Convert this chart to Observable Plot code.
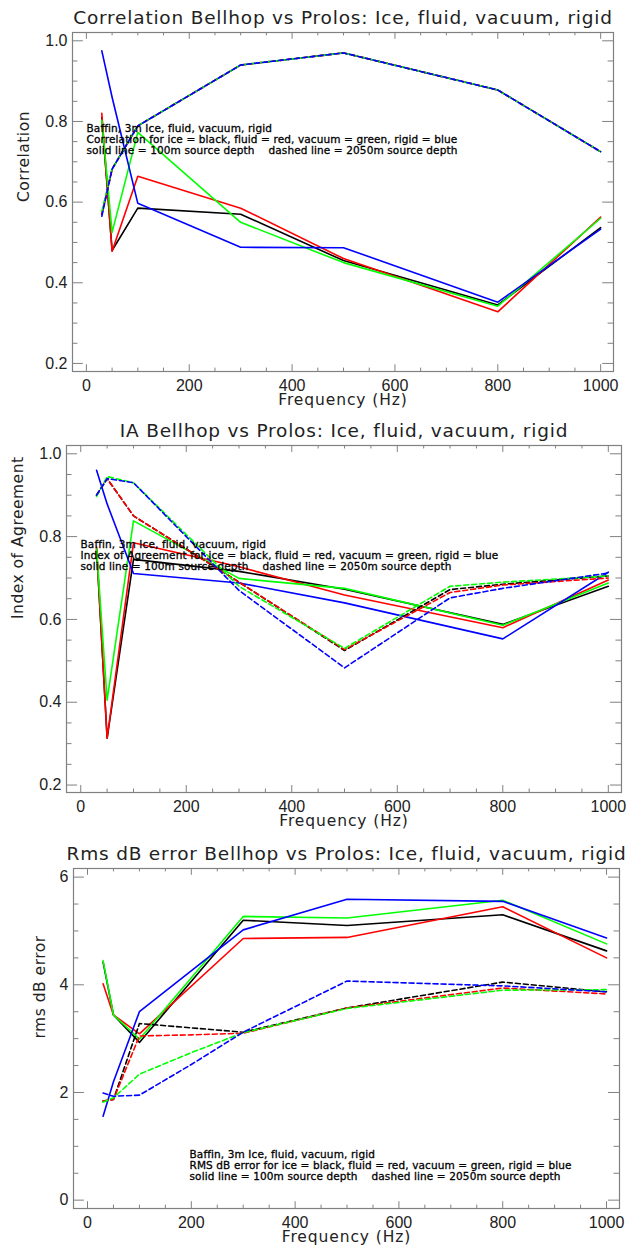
<!DOCTYPE html>
<html><head><meta charset="utf-8">
<script src="https://cdn.jsdelivr.net/npm/d3@7"></script>
<script src="https://cdn.jsdelivr.net/npm/@observablehq/plot@0.6"></script>
<style>
body{margin:0;background:#fff;}
#root{width:631px;}
#root svg{display:block;}
</style></head><body><div id="root"></div>
<script>
// ---------- data ----------
const freqSolid = [30, 50, 100, 300, 500, 800, 1000];
const freqCorrDashed = [30, 50, 100, 300, 500, 800, 1000];
const freqIADashed = [30, 50, 100, 300, 500, 700, 800, 1000];
const freqRmsDashed = [30, 50, 100, 200, 300, 500, 800, 1000];

const boundaries = ["ice", "fluid", "vacuum", "rigid"];
const boundaryColors = ["#000000", "#ff0000", "#00ff00", "#0000ff"];

// Correlation, 100 m source (solid)
const corrIce100    = [0.81, 0.480, 0.585, 0.570, 0.455, 0.345, 0.537];
const corrFluid100  = [0.82, 0.478, 0.664, 0.585, 0.460, 0.328, 0.563];
const corrVacuum100 = [0.803, 0.525, 0.773, 0.550, 0.450, 0.342, 0.560];
const corrRigid100  = [0.975, 0.860, 0.597, 0.488, 0.487, 0.352, 0.533];
// Correlation, 2050 m source (dashed)
const corrIce2050    = [0.570, 0.682, 0.789, 0.940, 0.970, 0.878, 0.725];
const corrFluid2050  = [0.570, 0.682, 0.789, 0.940, 0.970, 0.878, 0.725];
const corrVacuum2050 = [0.577, 0.682, 0.789, 0.940, 0.970, 0.878, 0.725];
const corrRigid2050  = [0.565, 0.682, 0.789, 0.940, 0.970, 0.878, 0.725];

// Index of agreement, 100 m source (solid)
const iaIce100    = [0.770, 0.313, 0.745, 0.716, 0.673, 0.588, 0.680];
const iaFluid100  = [0.775, 0.313, 0.785, 0.727, 0.659, 0.580, 0.695];
const iaVacuum100 = [0.770, 0.405, 0.838, 0.699, 0.675, 0.586, 0.688];
const iaRigid100  = [0.960, 0.879, 0.711, 0.688, 0.640, 0.553, 0.714];
// Index of agreement, 2050 m source (dashed)
const iaIce2050    = [0.900, 0.940, 0.850, 0.690, 0.525, 0.672, 0.685, 0.705];
const iaFluid2050  = [0.900, 0.940, 0.850, 0.690, 0.527, 0.665, 0.683, 0.700];
const iaVacuum2050 = [0.897, 0.945, 0.930, 0.680, 0.530, 0.680, 0.690, 0.705];
const iaRigid2050  = [0.900, 0.940, 0.930, 0.670, 0.483, 0.652, 0.675, 0.712];

// RMS dB error, 100 m source (solid)
const rmsIce100    = [4.42, 3.44, 2.93, 5.20, 5.10, 5.30, 4.63];
const rmsFluid100  = [4.02, 3.44, 3.09, 4.86, 4.88, 5.45, 4.50];
const rmsVacuum100 = [4.45, 3.44, 2.99, 5.27, 5.24, 5.57, 4.76];
const rmsRigid100  = [1.56, 2.20, 3.50, 5.02, 5.59, 5.55, 4.87];
// RMS dB error, 2050 m source (dashed)
const rmsIce2050    = [1.84, 1.87, 3.28, 3.20, 3.12, 3.57, 4.05, 3.87];
const rmsFluid2050  = [1.84, 1.87, 3.05, 3.07, 3.10, 3.57, 3.94, 3.83];
const rmsVacuum2050 = [1.82, 1.90, 2.34, 2.74, 3.11, 3.56, 3.90, 3.91];
const rmsRigid2050  = [1.99, 1.93, 1.95, 2.52, 3.12, 4.07, 3.98, 3.87];

const xTickValues = [0, 200, 400, 600, 800, 1000];
const corrTickValues = [0.2, 0.4, 0.6, 0.8, 1.0];
const iaTickValues = [0.2, 0.4, 0.6, 0.8, 1.0];
const rmsTickValues = [0, 2, 4, 6];

const titles = [
  "Correlation Bellhop vs Prolos: Ice, fluid, vacuum, rigid",
  "IA Bellhop vs Prolos: Ice, fluid, vacuum, rigid",
  "Rms dB error Bellhop vs Prolos: Ice, fluid, vacuum, rigid"
];
const yLabels = ["Correlation", "Index of Agreement", "rms dB error"];
const xLabel = "Frequency (Hz)";
const notes = [
  "Baffin, 3m Ice, fluid, vacuum, rigid\nCorrelation for ice = black, fluid = red, vacuum = green, rigid = blue\nsolid line = 100m source depth    dashed line = 2050m source depth",
  "Baffin, 3m Ice, fluid, vacuum, rigid\nIndex of Agreement for ice = black, fluid = red, vacuum = green, rigid = blue\nsolid line = 100m source depth    dashed line = 2050m source depth",
  "Baffin, 3m Ice, fluid, vacuum, rigid\nRMS dB error for ice = black, fluid = red, vacuum = green, rigid = blue\nsolid line = 100m source depth    dashed line = 2050m source depth"
];

// ---------- drawing ----------
const FONT = "'DejaVu Sans', 'Liberation Sans', sans-serif";
const TICKFONT = "'Liberation Sans', Arial, sans-serif";
const FRAME = "#808080";

function toRows(freqs, values) {
  return freqs.map((f, i) => ({f, v: values[i]}));
}

function panel(o) {
  const W = 631;
  const {top, right, bottom, left} = o.m;
  const fw = W - left - right, fh = o.height - top - bottom;
  const xL = 0.02 * fh, yL = 0.02 * fw;
  const xMinor = d3.range(0, 1001, 50).filter(d => d % 200 !== 0);
  const yMinor = d3.range(o.yMinorStart, o.yMinorEnd + 1e-9, o.yMinorStep)
    .map(d => +d.toFixed(4)).filter(d => !o.yTicks.some(t => Math.abs(t - d) < 1e-6));
  const tickStyle = {stroke: FRAME, strokeWidth: 1};
  const marks = [
    Plot.frame({stroke: FRAME, strokeWidth: 1.2}),
    Plot.tickX(xTickValues, {x: d => d, ...tickStyle, insetTop: fh - xL}),
    Plot.tickX(xTickValues, {x: d => d, ...tickStyle, insetBottom: fh - xL}),
    Plot.tickX(xMinor, {x: d => d, ...tickStyle, insetTop: fh - xL / 2}),
    Plot.tickX(xMinor, {x: d => d, ...tickStyle, insetBottom: fh - xL / 2}),
    Plot.tickY(o.yTicks, {y: d => d, ...tickStyle, insetRight: fw - yL}),
    Plot.tickY(o.yTicks, {y: d => d, ...tickStyle, insetLeft: fw - yL}),
    Plot.tickY(yMinor, {y: d => d, ...tickStyle, insetRight: fw - yL / 2}),
    Plot.tickY(yMinor, {y: d => d, ...tickStyle, insetLeft: fw - yL / 2}),
    Plot.axisX(xTickValues, {tickSize: 0, tickPadding: 8, fontSize: 16, fontFamily: TICKFONT, fill: "#222", label: null, tickFormat: d3.format("d")}),
    Plot.axisY(o.yTicks, {tickSize: 0, tickPadding: 5, fontSize: 16, fontFamily: TICKFONT, fill: "#222", label: null, tickFormat: o.yFormat}),
  ];
  o.solid.forEach((vals, i) => {
    marks.push(Plot.line(toRows(o.solidFreq, vals), {x: "f", y: "v", stroke: boundaryColors[i], strokeWidth: 1.6}));
  });
  o.dashed.forEach((vals, i) => {
    marks.push(Plot.line(toRows(o.dashedFreq, vals), {x: "f", y: "v", stroke: boundaryColors[i], strokeWidth: 1.6, strokeDasharray: "5,3"}));
  });
  marks.push(
    Plot.text([o.title], {text: d => d, frameAnchor: "top", dy: -14, lineAnchor: "middle", fontSize: 18.5, fill: "#222"}),
    Plot.text([o.ylabel], {text: d => d, frameAnchor: "left", dx: o.ylabelDx, rotate: -90, lineAnchor: "middle", fontSize: 15.5, fill: "#222"}),
    Plot.text([xLabel], {text: d => d, frameAnchor: "bottom", dy: 29, lineAnchor: "middle", fontSize: 15.5, fill: "#222"}),
    Plot.text([o.note], {text: d => d, frameAnchor: "top-left", textAnchor: "start", lineAnchor: "top", dx: o.noteDx, dy: o.noteDy, fontSize: 10.5, lineHeight: 1.08, fill: "#000", stroke: "#000", strokeWidth: 0.3})
  );
  const svg = Plot.plot({
    width: W, height: o.height,
    marginTop: top, marginRight: right, marginBottom: bottom, marginLeft: left,
    style: {fontFamily: FONT, background: "#fff", overflow: "visible"},
    x: {domain: [-27, 1025]},
    y: {domain: o.yDomain},
    marks
  });
  // letter spacing to mimic the wide plotting font of the original
  const spacing = new Map([[o.title, "0.8px"], [o.ylabel, "0.5px"], [xLabel, "0.9px"], [o.note.replace(/\n/g, ""), "0.12px"]]);
  d3.select(svg).selectAll("text").each(function() {
    const s = spacing.get(this.textContent);
    if (s) this.style.letterSpacing = s;
  });
  return svg;
}

const root = document.getElementById("root");
root.appendChild(panel({
  height: 414, m: {top: 32, right: 18, bottom: 43, left: 72},
  title: titles[0], ylabel: yLabels[0], note: notes[0],
  yDomain: [0.18, 1.0206], yTicks: corrTickValues, yFormat: d3.format(".1f"),
  yMinorStart: 0.2, yMinorEnd: 1.0, yMinorStep: 0.05,
  solidFreq: freqSolid, dashedFreq: freqCorrDashed,
  solid: [corrIce100, corrFluid100, corrVacuum100, corrRigid100],
  dashed: [corrIce2050, corrFluid2050, corrVacuum2050, corrRigid2050],
  ylabelDx: -48, noteDx: 14, noteDy: 91
}));
root.appendChild(panel({
  height: 418, m: {top: 31, right: 10, bottom: 40, left: 66},
  title: titles[1], ylabel: yLabels[1], note: notes[1],
  yDomain: [0.182, 1.02], yTicks: iaTickValues, yFormat: d3.format(".1f"),
  yMinorStart: 0.2, yMinorEnd: 1.0, yMinorStep: 0.05,
  solidFreq: freqSolid, dashedFreq: freqIADashed,
  solid: [iaIce100, iaFluid100, iaVacuum100, iaRigid100],
  dashed: [iaIce2050, iaFluid2050, iaVacuum2050, iaRigid2050],
  ylabelDx: -48, noteDx: 14, noteDy: 94
}));
root.appendChild(panel({
  height: 416, m: {top: 36, right: 12, bottom: 40, left: 73},
  title: titles[2], ylabel: yLabels[2], note: notes[2],
  yDomain: [-0.155, 6.16], yTicks: rmsTickValues, yFormat: d3.format("d"),
  yMinorStart: 0, yMinorEnd: 6, yMinorStep: 0.5,
  solidFreq: freqSolid, dashedFreq: freqRmsDashed,
  solid: [rmsIce100, rmsFluid100, rmsVacuum100, rmsRigid100],
  dashed: [rmsIce2050, rmsFluid2050, rmsVacuum2050, rmsRigid2050],
  ylabelDx: -33, noteDx: 116, noteDy: 281
}));
</script>
</body></html>
